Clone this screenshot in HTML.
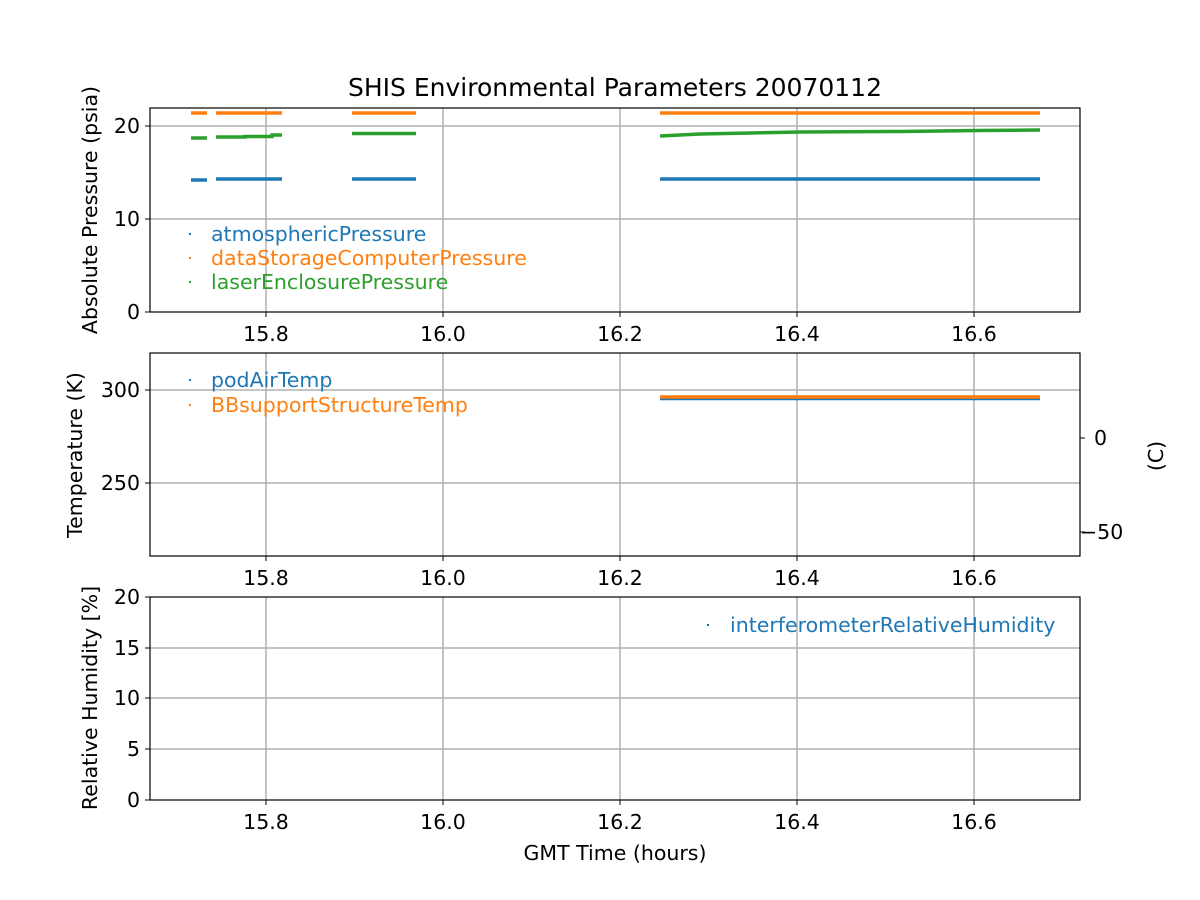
<!DOCTYPE html>
<html><head><meta charset="utf-8"><style>body{margin:0;background:#fff}svg{display:block}text{font-family:"DejaVu Sans","Liberation Sans",sans-serif}</style></head><body>
<svg width="1200" height="900" xmlns="http://www.w3.org/2000/svg">
<rect width="1200" height="900" fill="#fff"/>
<text x="615" y="96" font-size="25" text-anchor="middle">SHIS Environmental Parameters 20070112</text>
<g stroke="#b0b0b0" stroke-width="1.5">
<line x1="266" y1="108" x2="266" y2="312"/><line x1="443" y1="108" x2="443" y2="312"/><line x1="620" y1="108" x2="620" y2="312"/><line x1="797" y1="108" x2="797" y2="312"/><line x1="974" y1="108" x2="974" y2="312"/>
<line x1="150" y1="219" x2="1080" y2="219"/><line x1="150" y1="126" x2="1080" y2="126"/>
<line x1="266" y1="353" x2="266" y2="556"/><line x1="443" y1="353" x2="443" y2="556"/><line x1="620" y1="353" x2="620" y2="556"/><line x1="797" y1="353" x2="797" y2="556"/><line x1="974" y1="353" x2="974" y2="556"/>
<line x1="150" y1="390" x2="1080" y2="390"/><line x1="150" y1="483" x2="1080" y2="483"/>
<line x1="266" y1="597" x2="266" y2="800"/><line x1="443" y1="597" x2="443" y2="800"/><line x1="620" y1="597" x2="620" y2="800"/><line x1="797" y1="597" x2="797" y2="800"/><line x1="974" y1="597" x2="974" y2="800"/>
<line x1="150" y1="749" x2="1080" y2="749"/><line x1="150" y1="698" x2="1080" y2="698"/><line x1="150" y1="648" x2="1080" y2="648"/>
</g>
<g stroke-width="3.5">
<line x1="191" y1="113" x2="207" y2="113" stroke="#ff7f0e"/><line x1="216" y1="113" x2="282" y2="113" stroke="#ff7f0e"/><line x1="352" y1="113" x2="416" y2="113" stroke="#ff7f0e"/><line x1="660" y1="113" x2="1040" y2="113" stroke="#ff7f0e"/>
<line x1="191" y1="138" x2="207" y2="138" stroke="#2ca02c"/><polyline fill="none" points="216,137 245,137 245,136.5 272,136.5 272,135 282,135" stroke="#2ca02c"/><line x1="352" y1="133.5" x2="416" y2="133.5" stroke="#2ca02c"/><polyline fill="none" points="660,136 700,134 800,132 900,131.5 980,130.5 1040,130" stroke="#2ca02c"/>
<line x1="191" y1="180" x2="207" y2="180" stroke="#1f77b4"/><line x1="216" y1="179" x2="282" y2="179" stroke="#1f77b4"/><line x1="352" y1="179" x2="416" y2="179" stroke="#1f77b4"/><line x1="660" y1="179" x2="1040" y2="179" stroke="#1f77b4"/>
<line x1="660" y1="398.5" x2="1040" y2="398.5" stroke="#1f77b4"/><line x1="660" y1="397" x2="1040" y2="397" stroke="#ff7f0e"/>
</g>
<g fill="none" stroke="#000" stroke-width="1.2">
<rect x="150" y="108" width="930" height="204"/><rect x="150" y="353" width="930" height="203"/><rect x="150" y="597" width="930" height="203"/>
</g>
<g stroke="#000" stroke-width="1">
<line x1="145" y1="312" x2="150" y2="312"/><line x1="145" y1="219" x2="150" y2="219"/><line x1="145" y1="126" x2="150" y2="126"/>
<line x1="145" y1="390" x2="150" y2="390"/><line x1="145" y1="483" x2="150" y2="483"/>
<line x1="1080" y1="438" x2="1085" y2="438"/><line x1="1080" y1="532" x2="1085" y2="532"/>
<line x1="145" y1="800" x2="150" y2="800"/><line x1="145" y1="749" x2="150" y2="749"/><line x1="145" y1="698" x2="150" y2="698"/><line x1="145" y1="648" x2="150" y2="648"/><line x1="145" y1="597" x2="150" y2="597"/>
<line x1="266" y1="312" x2="266" y2="317"/><line x1="443" y1="312" x2="443" y2="317"/><line x1="620" y1="312" x2="620" y2="317"/><line x1="797" y1="312" x2="797" y2="317"/><line x1="974" y1="312" x2="974" y2="317"/>
<line x1="266" y1="556" x2="266" y2="561"/><line x1="443" y1="556" x2="443" y2="561"/><line x1="620" y1="556" x2="620" y2="561"/><line x1="797" y1="556" x2="797" y2="561"/><line x1="974" y1="556" x2="974" y2="561"/>
<line x1="266" y1="800" x2="266" y2="805"/><line x1="443" y1="800" x2="443" y2="805"/><line x1="620" y1="800" x2="620" y2="805"/><line x1="797" y1="800" x2="797" y2="805"/><line x1="974" y1="800" x2="974" y2="805"/>
</g>
<g font-size="20.5" text-anchor="end">
<text x="140" y="319">0</text><text x="140" y="226">10</text><text x="140" y="133">20</text>
<text x="140" y="397">300</text><text x="140" y="490">250</text>
<text x="140" y="807">0</text><text x="140" y="756">5</text><text x="140" y="705">10</text><text x="140" y="655">15</text><text x="140" y="604">20</text>
</g>
<g font-size="20.5" text-anchor="start"><text x="1094" y="445">0</text><text x="1080" y="539">−50</text></g>
<g font-size="20.5" text-anchor="middle">
<text x="266" y="341">15.8</text><text x="443" y="341">16.0</text><text x="620" y="341">16.2</text><text x="797" y="341">16.4</text><text x="974" y="341">16.6</text>
<text x="266" y="585">15.8</text><text x="443" y="585">16.0</text><text x="620" y="585">16.2</text><text x="797" y="585">16.4</text><text x="974" y="585">16.6</text>
<text x="266" y="829">15.8</text><text x="443" y="829">16.0</text><text x="620" y="829">16.2</text><text x="797" y="829">16.4</text><text x="974" y="829">16.6</text>
<text x="615" y="860">GMT Time (hours)</text>
<text transform="translate(97,210) rotate(-90)">Absolute Pressure (psia)</text>
<text transform="translate(82,455) rotate(-90)">Temperature (K)</text>
<text transform="translate(97,698) rotate(-90)">Relative Humidity [%]</text>
<text transform="translate(1163,456) rotate(-90)">(C)</text>
</g>
<g font-size="20.5">
<text x="211" y="241" fill="#1f77b4">atmosphericPressure</text>
<text x="211" y="265" fill="#ff7f0e">dataStorageComputerPressure</text>
<text x="211" y="289" fill="#2ca02c">laserEnclosurePressure</text>
<text x="211" y="387" fill="#1f77b4">podAirTemp</text>
<text x="211" y="412" fill="#ff7f0e">BBsupportStructureTemp</text>
<text x="730" y="632" fill="#1f77b4">interferometerRelativeHumidity</text>
</g>
<g>
<rect x="189" y="233" width="2" height="2" fill="#1f77b4"/><rect x="189" y="257" width="2" height="2" fill="#ff7f0e"/><rect x="189" y="281" width="2" height="2" fill="#2ca02c"/>
<rect x="189" y="379" width="2" height="2" fill="#1f77b4"/><rect x="189" y="404" width="2" height="2" fill="#ff7f0e"/>
<rect x="707" y="624" width="2" height="2" fill="#1f77b4"/>
</g>
</svg>
</body></html>
